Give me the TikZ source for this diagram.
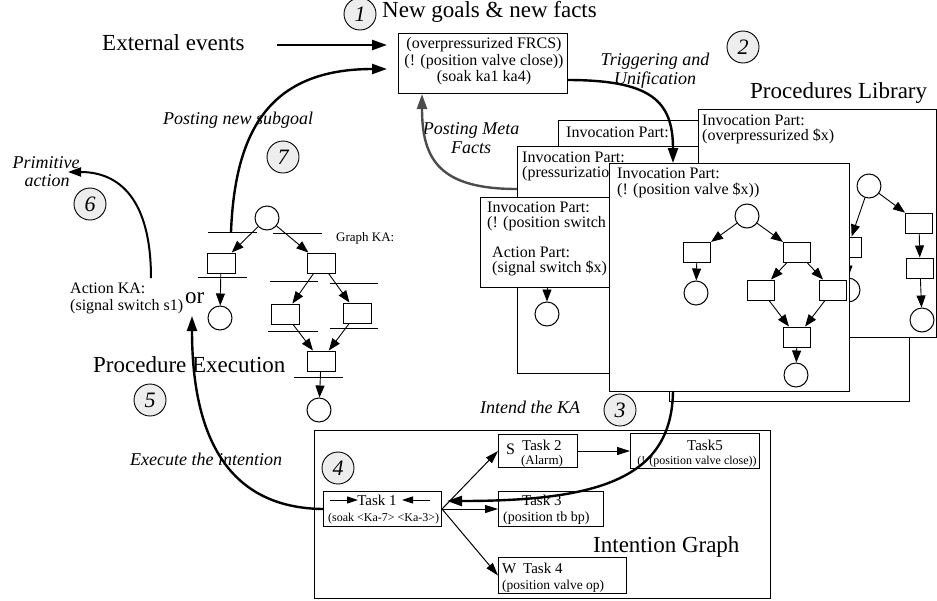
\documentclass[tikz,border=0pt]{standalone}
\usepackage{fontspec}
\setmainfont{Liberation Serif}
\usetikzlibrary{arrows.meta}
\definecolor{numfill}{gray}{0.93}
\definecolor{metagray}{gray}{0.3}
\begin{document}
\begin{tikzpicture}[x=1pt,y=-1pt,
  big/.style={font=\fontsize{23}{26}\selectfont, inner sep=0pt},
  txt/.style={font=\fontsize{16}{16}\selectfont, inner sep=0pt},
  sml/.style={font=\fontsize{#1}{#1}\selectfont, inner sep=0pt},
  lab/.style={font=\fontsize{18}{18}\selectfont\itshape, inner sep=0pt},
  num/.style={circle, draw, fill=numfill, minimum size=32pt, inner sep=0pt, line width=0.9pt, font=\fontsize{22}{22}\selectfont\itshape},
  pbox/.style={draw, fill=white, line width=1pt, anchor=north west, inner sep=0pt},
  frame/.style={draw, line width=1pt, inner sep=0pt, anchor=north west},
  place/.style={circle, draw, fill=white, minimum size=24pt, inner sep=0pt, line width=1pt},
  trans/.style={draw, fill=white, minimum width=27pt, minimum height=20pt, inner sep=0pt, line width=1pt},
  garrow/.style={-{Triangle[length=12pt,width=9pt]}, line width=0.9pt},
  tarrow/.style={-{Triangle[length=13pt,width=8pt]}, line width=1pt},
  bigarrow/.style={-{Triangle[length=15pt,width=10pt]}, line width=2.4pt},
  bar/.style={line width=1pt}
]
\useasboundingbox (0,0) rectangle (937,600);

% ---------- top ----------
\node[big, anchor=base west] (newgoals) at (382,17) {New goals \& new facts};
\node[num] (n1) at (360,14) {1};
\node[big, anchor=base west] (ext) at (102,50) {External events};
\node[frame, minimum width=169pt, minimum height=60pt] (goals) at (398,33) {};
\node[txt, anchor=base] (g1) at (484,48) {(overpressurized FRCS)};
\node[txt, anchor=base] (g2) at (484,65) {(! (position valve close))};
\node[txt, anchor=base] (g3) at (484,81) {(soak ka1 ka4)};
\node[lab, anchor=base] (trig1) at (655,65) {Triggering and};
\node[lab, anchor=base] (trig2) at (655,84) {Unification};
\node[num] (n2) at (743,47) {2};
\node[big, anchor=base west] (plib) at (750,98) {Procedures Library};
\node[lab, anchor=base] (pmeta1) at (471,134) {Posting Meta};
\node[lab, anchor=base] (pmeta2) at (471,153) {Facts};

% ---------- procedures library stack ----------
\node[pbox, minimum width=242pt, minimum height=180pt] (kaA) at (558,120) {};
\node[txt, anchor=base west] (kaAt) at (566,137) {Invocation Part:};
\node[pbox, minimum width=240pt, minimum height=151pt] (kaF) at (669,250) {};
\node[pbox, minimum width=283pt, minimum height=227pt] (kaB) at (517,146) {};
\node[txt, anchor=base west] (kaBt1) at (522,162) {Invocation Part:};
\node[txt, anchor=base west] (kaBt2) at (522,177) {(pressurizatio};
\coordinate (kaBin) at (547,250);
\node[place] (kaBc) at (547,314) {};
\draw[garrow] (kaBin) -- (kaBc);

\node[pbox, minimum width=238pt, minimum height=228pt] (kaC) at (698,109) {};
\node[txt, anchor=base west] (kaCt1) at (702,125) {Invocation Part:};
\node[txt, anchor=base west] (kaCt2) at (702,140) {(overpressurized \$x)};
\node[place] (c0) at (869,186) {};
\node[trans] (c1) at (848,247) {};
\node[place] (c2) at (848,290) {};
\node[trans] (c3) at (919,223) {};
\node[trans] (c4) at (920,268) {};
\node[place] (c5) at (922,320) {};
\draw[garrow] (c0) -- (c1);
\draw[garrow] (c1) -- (c2);
\draw[garrow] (c0) -- (c3);
\draw[garrow] (c3) -- (c4);
\draw[garrow] (c4) -- (c5);

\node[pbox, minimum width=320pt, minimum height=90pt] (kaD) at (480,197) {};
\node[txt, anchor=base west] (kaDt1) at (487,212) {Invocation Part:};
\node[txt, anchor=base west] (kaDt2) at (487,227) {(! (position switch};
\node[txt, anchor=base west] (kaDt3) at (492,257) {Action Part:};
\node[txt, anchor=base west] (kaDt4) at (492,272) {(signal switch \$x)};

\node[pbox, minimum width=240pt, minimum height=228pt] (kaE) at (609,163) {};
\node[txt, anchor=base west] (kaEt1) at (617,178) {Invocation Part:};
\node[txt, anchor=base west] (kaEt2) at (617,194) {(! (position valve \$x))};
\node[place] (e0) at (747,216) {};
\node[trans] (e1) at (697,252) {};
\node[trans] (e2) at (797,252) {};
\node[place] (e3) at (696,293) {};
\node[trans] (e4) at (761,290) {};
\node[trans] (e5) at (833,290) {};
\node[trans] (e6) at (797,337) {};
\node[place] (e7) at (796,375) {};
\draw[garrow] (e0) -- (e1);
\draw[garrow] (e0) -- (e2);
\draw[garrow] (e1) -- (e3);
\draw[garrow] (e2) -- (e4);
\draw[garrow] (e2) -- (e5);
\draw[garrow] (e4) -- (e6);
\draw[garrow] (e5) -- (e6);
\draw[garrow] (e6) -- (e7);

% ---------- graph KA (left) ----------
\node[place] (k0) at (267,218) {};
\node[trans, minimum width=28pt] (k1) at (221,263) {};
\node[place] (k2) at (220,318) {};
\node[trans, minimum width=28pt] (k3) at (321,263) {};
\node[trans, minimum width=28pt] (k4) at (285,314) {};
\node[trans, minimum width=28pt] (k5) at (357,313) {};
\node[trans, minimum width=28pt] (k6) at (321,361) {};
\node[place] (k7) at (319,410) {};
\draw[bar] (208,232) -- (257,232);
\draw[bar] (273,233) -- (322,233);
\draw[bar] (198,277) -- (247,277);
\draw[bar] (270,281) -- (318,281);
\draw[bar] (330,283) -- (378,283);
\draw[bar] (268,331) -- (318,331);
\draw[bar] (330,328) -- (378,328);
\draw[bar] (294,377) -- (343,377);
\draw[garrow] (k0) -- (k1);
\draw[garrow] (k0) -- (k3);
\draw[garrow] (k1) -- (k2);
\draw[garrow] (k3) -- (k4);
\draw[garrow] (k3) -- (k5);
\draw[garrow] (k4) -- (k6);
\draw[garrow] (k5) -- (k6);
\draw[garrow] (k6) -- (k7);
\node[sml=13, anchor=base west] (graphka) at (336,241) {Graph KA:};

% ---------- left labels ----------
\node[lab, anchor=base west] (subgoal) at (163,124) {Posting new subgoal};
\node[num] (n7) at (283,157) {7};
\node[lab, anchor=base] (prim1) at (46,168) {Primitive};
\node[lab, anchor=base] (prim2) at (47,186) {action};
\node[num] (n6) at (90,204) {6};
\node[txt, anchor=base west] (actka1) at (70,293) {Action KA:};
\node[txt, anchor=base west] (actka2) at (70,310) {(signal switch s1)};
\node[big, anchor=base west] (ornode) at (185,303) {or};
\node[big, anchor=base west] (procexec) at (93,372) {Procedure Execution};
\node[num] (n5) at (150,400) {5};
\node[lab, anchor=base west] (execlab) at (130,465) {Execute the intention};
\node[lab, anchor=base west] (intendlab) at (480,413) {Intend the KA};
\node[num] (n3) at (620,410) {3};

% ---------- intention graph ----------
\node[frame, line width=1.2pt, minimum width=456pt, minimum height=168pt] (ig) at (314,430) {};
\node[big, anchor=base west] (igt) at (593,552) {Intention Graph};
\node[num] (n4) at (338,468) {4};
\node[frame, minimum width=118pt, minimum height=35pt] (t1) at (323,491) {};
\node[frame, minimum width=79pt, minimum height=33pt] (t2) at (498,434) {};
\node[frame, minimum width=129pt, minimum height=35pt] (t5) at (630,433) {};
\node[frame, minimum width=105pt, minimum height=35pt] (t3) at (498,491) {};
\node[frame, minimum width=128pt, minimum height=36pt] (t4) at (498,557) {};

\node[sml=15, anchor=base] (t1a) at (377,505) {Task 1};
\node[sml=12, anchor=base west] (t1b) at (328,521) {(soak <Ka-7> <Ka-3>)};
\coordinate (ta1s) at (330,500); \coordinate (ta1e) at (358,500);
\coordinate (ta2s) at (430,500); \coordinate (ta2e) at (402,500);
\draw[-{Triangle[length=11pt,width=7pt]}, line width=1pt] (ta1s) -- (ta1e);
\draw[-{Triangle[length=11pt,width=7pt]}, line width=1pt] (ta2s) -- (ta2e);
\node[sml=16, anchor=base west] (t2s) at (506,454) {S};
\node[sml=15, anchor=base west] (t2a) at (522,450) {Task 2};
\node[sml=13, anchor=base] (t2b) at (542,464) {(Alarm)};
\node[sml=15, anchor=base] (t5a) at (705,450) {Task5};
\node[sml=12, anchor=base] (t5b) at (697,464) {(! (position valve close))};
\node[sml=15, anchor=base west] (t3a) at (522,505) {Task 3};
\node[sml=14, anchor=base west] (t3b) at (503,521) {(position tb bp)};
\node[sml=15, anchor=base west] (t4w) at (502,573) {W};
\node[sml=15, anchor=base west] (t4a) at (523,573) {Task 4};
\node[sml=13.5, anchor=base west] (t4b) at (502,589) {(position valve op)};

\draw[tarrow] (t1.east) -- (t2.west);
\draw[tarrow] (t1.east) -- (t3.west);
\draw[tarrow] (t1.east) -- (t4.west);
\draw[tarrow] (t2.east) -- (t5.west);

% ---------- main arrows ----------
\coordinate (extS) at (277,45); \coordinate (extE) at (387,45);
\draw[bigarrow] (extS) -- (extE);
\coordinate (sub0) at (231,232); \coordinate (sub1) at (387,69);
\draw[bigarrow] (sub0) .. controls (235,130) and (270,69) .. (sub1);
\coordinate (trg0) at (567,80); \coordinate (trg1) at (673,163);
\draw[bigarrow] (trg0) .. controls (650,80) and (673,100) .. (trg1);
\coordinate (pm0) at (517,189); \coordinate (pm1) at (422,94);
\draw[bigarrow, color=metagray] (pm0) .. controls (440,189) and (422,160) .. (pm1);
\coordinate (int0) at (673,391); \coordinate (int1) at (447,501);
\draw[bigarrow] (int0) .. controls (672,478) and (600,501) .. (int1);
\coordinate (orTip) at (192,316);
\draw[bigarrow] (t1.west) .. controls (230,508) and (192,440) .. (orTip);
\coordinate (act0) at (151,278); \coordinate (act1) at (68,172);
\draw[-{Triangle[length=13pt,width=9pt]}, line width=2pt] (act0) .. controls (151,200) and (120,172) .. (act1);
\end{tikzpicture}
\end{document}
